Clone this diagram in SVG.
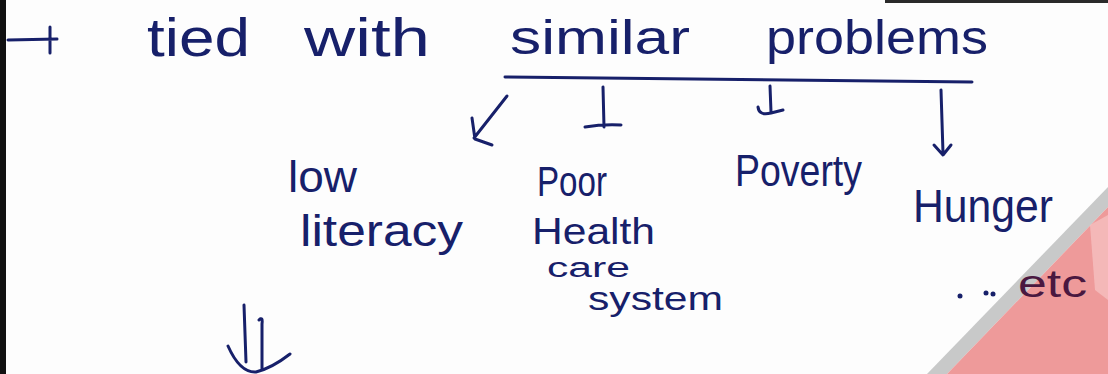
<svg xmlns="http://www.w3.org/2000/svg" width="1108" height="374" viewBox="0 0 1108 374">
  <style>
    .ink { font-family: "Liberation Sans", "DejaVu Sans", sans-serif; fill: #17206a; }
    .red { font-family: "Liberation Sans", "DejaVu Sans", sans-serif; fill: #4a1840; }
    .stroke { fill: none; stroke: #17206a; stroke-width: 3; stroke-linecap: round; stroke-linejoin: round; }
  </style>
  <rect x="0" y="0" width="1108" height="374" fill="#fdfdfd"/>
  <!-- page edges -->
  <rect x="0" y="0" width="6" height="374" fill="#111"/>
  <rect x="885" y="0" width="223" height="3" fill="#2a2a2a"/>
  <!-- corner sticker -->
  <polygon points="1108,187 1108,207 947,374 927,374" fill="#c8c9c9"/>
  <polygon points="1108,207 1108,374 947,374" fill="#ee9a9a"/>
  <polygon points="1090,225 1108,215 1108,300 1095,290" fill="#f6c4c4" opacity="0.7"/>

  <g id="lead">
    <text class="ink" x="147" y="56" font-size="54" textLength="103" lengthAdjust="spacingAndGlyphs">tied</text>
    <text class="ink" x="304" y="56" font-size="54" textLength="126" lengthAdjust="spacingAndGlyphs">with</text>
  </g>
  <g id="similar-problems">
    <text class="ink" x="510" y="54" font-size="48" textLength="180" lengthAdjust="spacingAndGlyphs">similar</text>
    <text class="ink" x="766" y="54" font-size="48" textLength="222" lengthAdjust="spacingAndGlyphs">problems</text>
  </g>
  <g id="low-literacy">
    <text class="ink" x="288" y="192" font-size="44" textLength="69" lengthAdjust="spacingAndGlyphs">low</text>
    <text class="ink" x="300" y="246" font-size="44" textLength="163" lengthAdjust="spacingAndGlyphs">literacy</text>
  </g>
  <g id="poor-health-care-system">
    <text class="ink" x="537" y="196" font-size="42" textLength="70" lengthAdjust="spacingAndGlyphs">Poor</text>
    <text class="ink" x="532" y="244" font-size="37" textLength="123" lengthAdjust="spacingAndGlyphs">Health</text>
    <text class="ink" x="547" y="277" font-size="27" textLength="83" lengthAdjust="spacingAndGlyphs">care</text>
    <text class="ink" x="588" y="310" font-size="33" textLength="135" lengthAdjust="spacingAndGlyphs">system</text>
  </g>
  <g id="poverty">
    <text class="ink" x="735" y="186" font-size="44" textLength="127" lengthAdjust="spacingAndGlyphs">Poverty</text>
  </g>
  <g id="hunger">
    <text class="ink" x="913" y="222" font-size="46" textLength="140" lengthAdjust="spacingAndGlyphs">Hunger</text>
  </g>
  <g id="etc">
    <circle cx="960" cy="296" r="2.5" fill="#17206a"/>
    <circle cx="986" cy="293" r="2.5" fill="#17206a"/>
    <circle cx="993" cy="294" r="2.5" fill="#17206a"/>
    <text class="red" x="1018" y="297" font-size="38" textLength="69" lengthAdjust="spacingAndGlyphs">etc</text>
  </g>

  <g id="connectors">
    <path class="stroke" d="M8,40 L57,39 M50,27 L50,53"/>
    <path class="stroke" d="M505,77 L972,82" stroke-width="3.5"/>
    <path class="stroke" d="M507,96 L474,138 M472,118 L475,139 L492,145"/>
    <path class="stroke" d="M603,87 L604,127 M585,127 Q603,124 621,125"/>
    <path class="stroke" d="M770,86 L771,112 M758,107 Q759,116 771,113 L783,110"/>
    <path class="stroke" d="M941,90 L943,153 M934,145 L943,155 L951,145"/>
    <path class="stroke" d="M244,305 L246,362 M259,320 Q263,316 262,324 L262,370 M228,346 Q240,373 256,372 Q272,368 290,354"/>
  </g>
</svg>
